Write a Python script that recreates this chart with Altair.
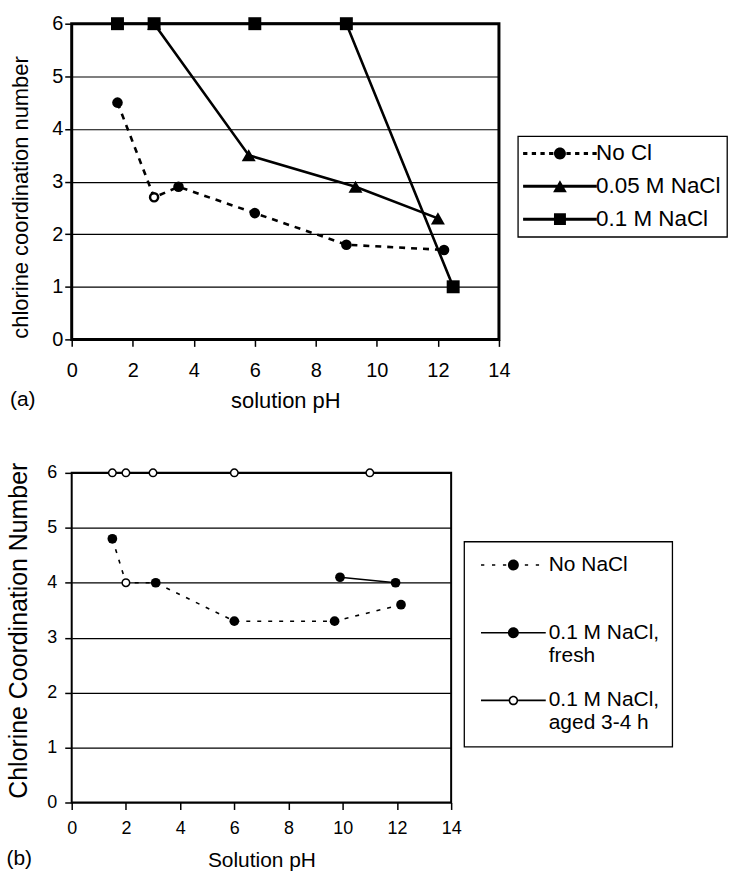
import altair as alt
import pandas as pd

FONT = "Liberation Sans"

# ---------------- data: panel (a) ----------------
a_nocl_ph = [1.5, 2.7, 3.5, 6.0, 9.0, 12.2]
a_nocl_cn = [4.5, 2.7, 2.9, 2.4, 1.8, 1.7]
a_nocl_open = [False, True, False, False, False, False]
a_005_ph = [2.7, 5.8, 9.3, 12.0]
a_005_cn = [6.0, 3.5, 2.9, 2.3]
a_01_ph = [1.5, 2.7, 6.0, 9.0, 12.5]
a_01_cn = [6.0, 6.0, 6.0, 6.0, 1.0]
a_series = ["No Cl", "0.05 M NaCl", "0.1 M NaCl"]

# ---------------- data: panel (b) ----------------
b_nonacl_ph = [1.5, 2.0, 3.1, 6.0, 9.7, 12.15]
b_nonacl_cn = [4.8, 4.0, 4.0, 3.3, 3.3, 3.6]
b_nonacl_open = [False, True, False, False, False, False]
b_fresh_ph = [9.9, 11.95]
b_fresh_cn = [4.1, 4.0]
b_aged_ph = [1.5, 2.0, 3.0, 6.0, 11.0]
b_aged_cn = [6.0, 6.0, 6.0, 6.0, 6.0]
b_series = ["No NaCl", "0.1 M NaCl, fresh", "0.1 M NaCl, aged 3-4 h"]

x_ticks = [0, 2, 4, 6, 8, 10, 12, 14]
y_ticks = [0, 1, 2, 3, 4, 5, 6]


def frame(ph, cn, open_flags=None):
    d = {"ph": ph, "cn": cn}
    d["open"] = open_flags if open_flags is not None else [False] * len(ph)
    return pd.DataFrame(d)


# ---------- legend symbol paths (line + marker, all clockwise fills) ----------
def rect(x0, x1, hw):
    return f"M{x0:.3f},{-hw:.3f}H{x1:.3f}V{hw:.3f}H{x0:.3f}Z"


def circle(r):
    return f"M{-r:.3f},0A{r:.3f},{r:.3f},0,1,1,{r:.3f},0A{r:.3f},{r:.3f},0,1,1,{-r:.3f},0Z"


def ring(ro, ri):
    inner = f"M{-ri:.3f},0A{ri:.3f},{ri:.3f},0,1,0,{ri:.3f},0A{ri:.3f},{ri:.3f},0,1,0,{-ri:.3f},0Z"
    return circle(ro) + inner


def triangle(r):
    h = 0.866 * r
    return f"M0,{-h:.3f}L{r:.3f},{h:.3f}L{-r:.3f},{h:.3f}Z"


def square(s):
    return f"M{-s:.3f},{-s:.3f}H{s:.3f}V{s:.3f}H{-s:.3f}Z"


def dashed(L, hw, dash, period):
    parts, x = [], -L
    while x + dash <= L + 1e-6:
        parts.append(rect(x, x + dash, hw))
        x += period
    return "".join(parts)


# panel (a) legend: 1 unit = 6 px
KA = 6.0
LA = 37 / KA
HWA = 1.5 / KA
sym_a = [
    dashed(LA, HWA, 4.3 / KA, 8.7 / KA) + circle(1.0),
    rect(-LA, LA, HWA) + triangle(1.15),
    rect(-LA, LA, HWA) + square(1.0),
]
# panel (b) legend: 1 unit = 5 px
KB = 5.0
LB = 32.5 / KB
HWB = 0.8 / KB
sym_b = [
    dashed(LB, HWB, 3.3 / KB, 11 / KB) + circle(1.1),
    rect(-LB, LB, HWB) + circle(1.1),
    rect(-LB, -0.96, HWB) + rect(0.96, LB, HWB) + ring(0.96, 0.64),
]


def x_enc(title, lsize, tsize, lpad, ty):
    return alt.X(
        "ph:Q",
        scale=alt.Scale(domain=[0, 14], nice=False, zero=False),
        axis=alt.Axis(
            values=x_ticks, title=title, grid=False, domain=False,
            tickSize=7, tickWidth=1.5, tickColor="black",
            labelFont=FONT, labelFontSize=lsize, labelColor="black",
            labelPadding=lpad, labelFlush=False, labelOverlap=False,
            titleFont=FONT, titleFontSize=tsize, titleFontWeight="normal",
            titleColor="black", titleY=ty, titleBaseline="top",
        ),
    )


def y_enc(title, lsize, tsize, lpad, tx, ty, gw):
    return alt.Y(
        "cn:Q",
        scale=alt.Scale(domain=[0, 6], nice=False, zero=False),
        axis=alt.Axis(
            values=y_ticks, title=title, grid=True, gridColor="black",
            gridWidth=gw, gridOpacity=1, domain=False,
            tickSize=7, tickWidth=1.5, tickColor="black",
            labelFont=FONT, labelFontSize=lsize, labelColor="black",
            labelPadding=lpad, labelOverlap=False,
            titleFont=FONT, titleFontSize=tsize, titleFontWeight="normal",
            titleColor="black", titleX=tx, titleY=ty, titleAlign="center",
            titleBaseline="bottom", titleAngle=270,
        ),
    )


# ---------------- panel (a) ----------------
XA = x_enc("solution pH", 20, 22, 14, 51)
YA = y_enc("chlorine coordination number", 20, 22, 2, -39, 174, 1.2)

df_a_nocl = frame(a_nocl_ph, a_nocl_cn, a_nocl_open)
df_a_005 = frame(a_005_ph, a_005_cn)
df_a_01 = frame(a_01_ph, a_01_cn)

a_lines = [
    alt.Chart(df_a_nocl).mark_line(color="black", strokeWidth=2.6, strokeDash=[6, 6]).encode(x=XA, y=YA),
    alt.Chart(df_a_005).mark_line(color="black", strokeWidth=2.6).encode(x=XA, y=YA),
    alt.Chart(df_a_01).mark_line(color="black", strokeWidth=2.6).encode(x=XA, y=YA),
]
a_points = [
    alt.Chart(df_a_nocl).transform_filter("!datum.open").mark_point(
        shape="circle", filled=True, color="black", size=113, opacity=1).encode(x=XA, y=YA),
    alt.Chart(df_a_nocl).transform_filter("datum.open").mark_point(
        shape="circle", filled=True, fill="white", stroke="black", strokeWidth=2.5,
        size=66, opacity=1).encode(x=XA, y=YA),
    alt.Chart(df_a_005).mark_point(
        shape="triangle-up", filled=True, color="black", size=196, opacity=1).encode(x=XA, y=YA),
    alt.Chart(df_a_01).mark_point(
        shape="square", filled=True, color="black", size=169, opacity=1).encode(x=XA, y=YA),
]
a_legend = alt.Chart(pd.DataFrame({"series": a_series})).transform_filter("false").mark_point(
    filled=True, color="black", opacity=1).encode(
    shape=alt.Shape(
        "series:N", scale=alt.Scale(domain=a_series, range=sym_a),
        legend=alt.Legend(
            title=None, orient="none", legendX=448, legendY=113,
            strokeColor="black", fillColor="white", padding=6,
            symbolSize=KA * KA * 4, symbolStrokeWidth=0, symbolFillColor="black",
            symbolOffset=25, labelOffset=25,
            labelFont=FONT, labelFontSize=22.5, labelColor="black", labelLimit=400,
            rowPadding=10,
        ),
    )
)

panel_a = alt.layer(*a_lines, *a_points, a_legend).properties(
    width=429, height=317,
    view=alt.ViewBackground(stroke="black", strokeWidth=3, fill="white"),
    title=alt.TitleParams("(a)", orient="bottom", anchor="start", frame="bounds",
                          font=FONT, fontSize=21, fontWeight="normal", color="black",
                          offset=-22),
)

# ---------------- panel (b) ----------------
XB = x_enc("Solution pH", 18, 21, 10, 47)
YB = y_enc("Chlorine Coordination Number", 18, 25, 8, -40.5, 158, 1.2)

df_b_nonacl = frame(b_nonacl_ph, b_nonacl_cn, b_nonacl_open)
df_b_fresh = frame(b_fresh_ph, b_fresh_cn)
df_b_aged = frame(b_aged_ph, b_aged_cn)

b_lines = [
    alt.Chart(df_b_nonacl).mark_line(color="black", strokeWidth=1.6, strokeDash=[4, 7]).encode(x=XB, y=YB),
    alt.Chart(df_b_fresh).mark_line(color="black", strokeWidth=1.6).encode(x=XB, y=YB),
    alt.Chart(df_b_aged).mark_line(color="black", strokeWidth=1.6).encode(x=XB, y=YB),
]
b_points = [
    alt.Chart(df_b_nonacl).transform_filter("!datum.open").mark_point(
        shape="circle", filled=True, color="black", size=95, opacity=1).encode(x=XB, y=YB),
    alt.Chart(df_b_nonacl).transform_filter("datum.open").mark_point(
        shape="circle", filled=True, fill="white", stroke="black", strokeWidth=1.5,
        size=57, opacity=1).encode(x=XB, y=YB),
    alt.Chart(df_b_fresh).mark_point(
        shape="circle", filled=True, color="black", size=95, opacity=1).encode(x=XB, y=YB),
    alt.Chart(df_b_aged).mark_point(
        shape="circle", filled=True, fill="white", stroke="black", strokeWidth=1.5,
        size=57, opacity=1).encode(x=XB, y=YB),
]
b_legend = alt.Chart(pd.DataFrame({"series": b_series})).transform_filter("false").mark_point(
    filled=True, color="black", opacity=1).encode(
    shape=alt.Shape(
        "series:N", scale=alt.Scale(domain=b_series, range=sym_b),
        legend=alt.Legend(
            title=None, orient="none", legendX=394, legendY=69,
            strokeColor="black", fillColor="white", padding=13,
            symbolSize=KB * KB * 4, symbolStrokeWidth=0, symbolFillColor="black",
            symbolOffset=26, labelOffset=25,
            labelFont=FONT, labelFontSize=21, labelColor="black", labelLimit=400,
            rowPadding=23, gridAlign="all",
            labelExpr="indexof(datum.label, ', ') > 0 ? [split(datum.label, ', ')[0] + ',', split(datum.label, ', ')[1]] : [datum.label, ' ']",
        ),
    )
)

panel_b = alt.layer(*b_lines, *b_points, b_legend).properties(
    width=381, height=331,
    view=alt.ViewBackground(stroke="black", strokeWidth=2, fill="white"),
    title=alt.TitleParams("(b)", orient="bottom", anchor="start", frame="bounds",
                          font=FONT, fontSize=21, fontWeight="normal", color="black",
                          offset=-22),
)

chart = alt.vconcat(panel_a, panel_b, spacing=48).resolve_scale(
    shape="independent").resolve_legend(shape="independent").properties(
    padding={"left": 5, "top": 10, "right": 0, "bottom": 0},
    background="white",
).configure(font=FONT).configure_legend(strokeWidth=1.3)

chart.save("out.html", embed_options={"renderer": "svg", "actions": False})
